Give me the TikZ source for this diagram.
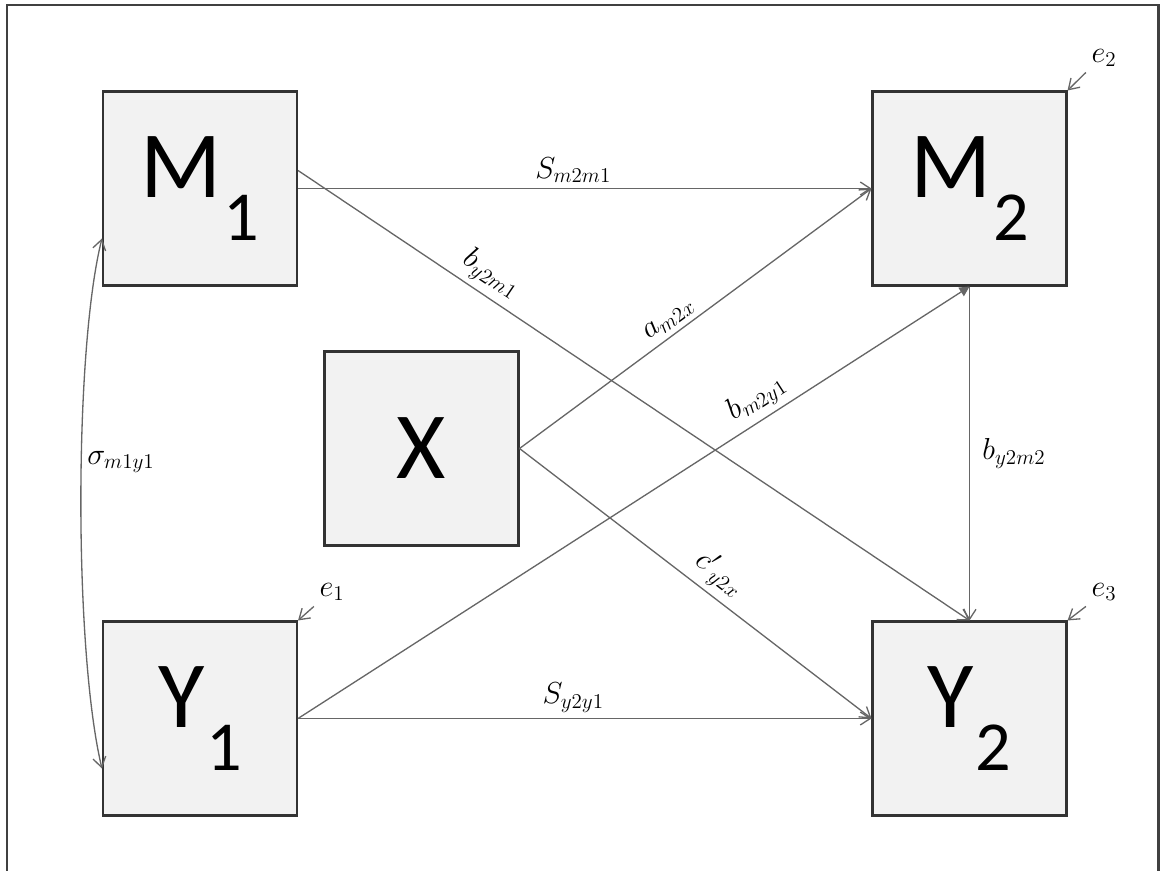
\documentclass[tikz,border=0pt]{standalone}
\usepackage{fontspec}
\newfontfamily\boxfont{Carlito}
\DeclareMathSizes{17}{17}{13}{10}
\usetikzlibrary{arrows.meta,calc}
\tikzset{
  var/.style={draw=black!80, line width=1.2pt, fill=black!5, minimum width=3.88cm, minimum height=3.88cm, inner sep=0pt, font=\boxfont},
  path/.style={draw=black!60, line width=0.75pt, -{Straight Barb[length=2mm,width=2.6mm]}},
  lbl/.style={font=\fontsize{17}{19}\selectfont, inner sep=3pt},
  frame/.style={draw=black!75, line width=1.7pt}
}
\newcommand{\boxlbl}[2]{{\fontsize{54}{54}\selectfont #1\kern1pt\raisebox{-24pt}{\fontsize{40}{40}\selectfont #2}}}
\begin{document}
\begin{tikzpicture}[x=0.02cm,y=-0.02cm]
\useasboundingbox (0,0) rectangle (1165,871);
\draw[frame] (7,880) -- (7,5) -- (1158,5) -- (1158,880);

\node[var] (M1) at (200,188.5) {\boxlbl{M}{1}};
\node[var] (M2) at (969.5,188.5) {\boxlbl{M}{2}};
\node[var] (X) at (421.5,448.5) {\fontsize{54}{54}\selectfont X};
\node[var] (Y1) at (200,718.5) {\boxlbl{Y}{1}};
\node[var] (Y2) at (969.5,718.5) {\boxlbl{Y}{2}};

\draw[path] (M1.east) -- node[lbl, above, pos=0.48] {$S_{m2m1}$} (M2.west);
\draw[path] (Y1.east) -- node[lbl, above, pos=0.48] {$S_{y2y1}$} (Y2.west);
\draw[path] ([yshift=0.36cm]M1.east) -- node[lbl, sloped, above, pos=0.27] {$b_{y2m1}$} (Y2.north);
\draw[path] (X.east) -- node[lbl, sloped, above, pos=0.45] {$a_{m2x}$} (M2.west);
\draw[path] (X.east) -- node[lbl, sloped, above, pos=0.53] {${c'}_{y2x}$} (Y2.west);
\draw[draw=black!60, line width=0.75pt, -{Triangle[length=2mm,width=2mm]}] (Y1.east) -- node[lbl, sloped, above, pos=0.70] {$b_{m2y1}$} (M2.south);
\draw[path] (M2.south) -- node[lbl, right, xshift=4pt] {$b_{y2m2}$} (Y2.north);

\coordinate (s1) at ($(M1.west)+(0,50)$);
\coordinate (s2) at ($(Y1.west)+(0,50)$);
\draw[path, {Straight Barb[length=2mm,width=2.6mm]}-{Straight Barb[length=2mm,width=2.6mm]}] (s1) .. controls ($(s1)+(-28,112)$) and ($(s2)+(-28,-118)$) .. (s2);
\node[lbl] (sig) at (121,462) {$\sigma_{m1y1}$};

\node[lbl] (e2) at (1104,58) {$e_2$};
\node[lbl] (e1) at (332,592) {$e_1$};
\node[lbl] (e3) at (1104,592) {$e_3$};
\draw[path] (e2.south west) -- (M2.north east);
\draw[path] (e1.south west) -- (Y1.north east);
\draw[path] (e3.south west) -- (Y2.north east);
\end{tikzpicture}
\end{document}
